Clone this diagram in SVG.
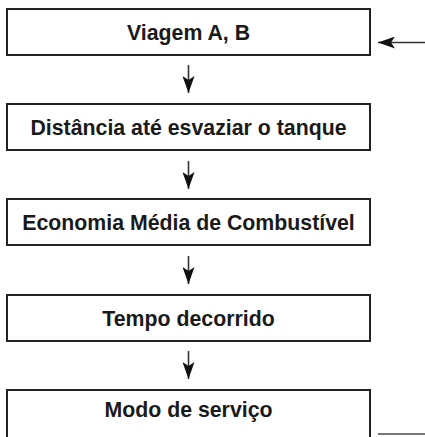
<svg xmlns="http://www.w3.org/2000/svg" width="425" height="437" viewBox="0 0 425 437">
<style>
.box{fill:#fff;stroke:#222;stroke-width:2}
.lbl{font-family:"Liberation Sans",Arial,sans-serif;font-weight:bold;font-size:21.3px;fill:#1a1a1a;text-anchor:middle}
.conn{stroke:#333;stroke-width:1.6;fill:none}
</style>
<defs>
<marker id="ah" markerUnits="userSpaceOnUse" viewBox="0 0 17 12" refX="17" refY="6" markerWidth="17" markerHeight="12" orient="auto">
<path d="M0,0 L17,6 L0,12 L4,6 Z" fill="#111"/>
</marker>
</defs>
<rect width="425" height="437" fill="#fff"/>
<g id="node1"><rect class="box" x="7" y="9" width="363" height="46"/><text class="lbl" x="188.5" y="39.5">Viagem A, B</text></g>
<g id="node2"><rect class="box" x="7" y="104" width="363" height="46"/><text class="lbl" x="188.5" y="134.5">Distância até esvaziar o tanque</text></g>
<g id="node3"><rect class="box" x="7" y="199" width="363" height="46"/><text class="lbl" x="188.5" y="229.5">Economia Média de Combustível</text></g>
<g id="node4"><rect class="box" x="7" y="295" width="363" height="46"/><text class="lbl" x="188.5" y="325.5">Tempo decorrido</text></g>
<g id="node5"><rect class="box" x="7" y="390" width="363" height="60"/><text class="lbl" x="188.5" y="417">Modo de serviço</text></g>
<g id="connectors">
<line class="conn" x1="188.5" y1="65" x2="188.5" y2="93" marker-end="url(#ah)"/>
<line class="conn" x1="188.5" y1="161" x2="188.5" y2="189" marker-end="url(#ah)"/>
<line class="conn" x1="188.5" y1="256" x2="188.5" y2="284" marker-end="url(#ah)"/>
<line class="conn" x1="188.5" y1="351" x2="188.5" y2="379" marker-end="url(#ah)"/>
<line class="conn" x1="425" y1="42.5" x2="378" y2="42.5" marker-end="url(#ah)"/>
<line x1="378" y1="434" x2="425" y2="434" stroke="#777" stroke-width="2"/>
</g>
</svg>
